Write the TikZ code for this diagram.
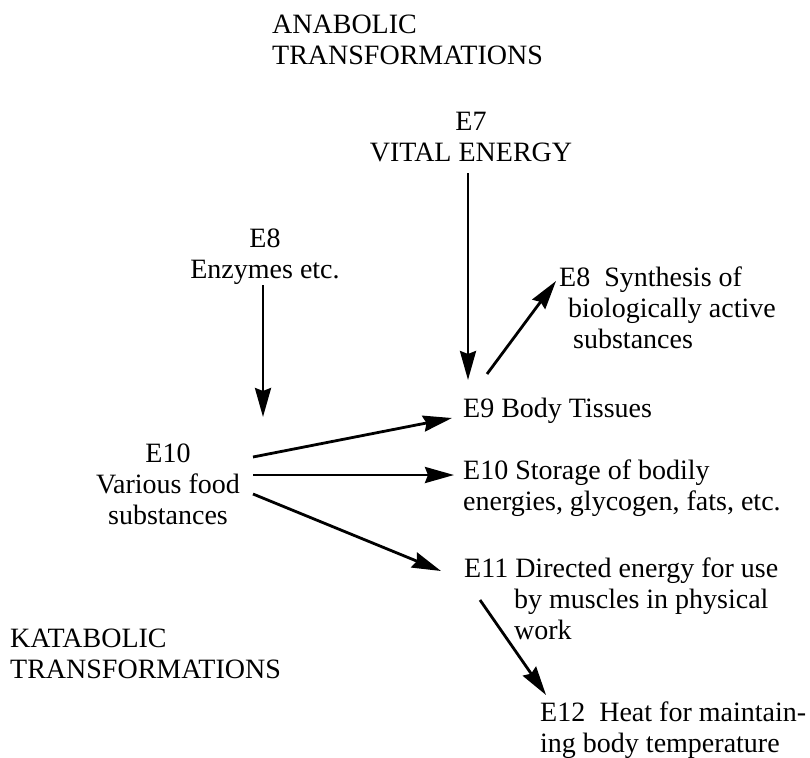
\documentclass[tikz,border=0pt]{standalone}
\usepackage{fontspec}
\setmainfont{Liberation Serif}
\usetikzlibrary{arrows.meta}
\begin{document}
\begin{tikzpicture}[x=1pt,y=-1pt,
  txt/.style={inner sep=0pt,font=\fontsize{28}{31}\selectfont},
  arr/.style={line width=2.8pt,-{Stealth[length=29pt,width=16pt,inset=3pt]}}]
\useasboundingbox (0,0) rectangle (810,757);
\node[txt,anchor=west,align=left] (ana) at (272,40) {ANABOLIC\\TRANSFORMATIONS};
\node[txt,anchor=west,align=left] (kata) at (10,654) {KATABOLIC\\TRANSFORMATIONS};
\node[txt,align=center] (e7) at (471,137) {E7\\VITAL ENERGY};
\node[txt,align=center] (e8) at (265,257) {E8\\Enzymes etc.};
\node[txt,align=center] (e10) at (168,484) {E10\\Various food\\substances};
\node[txt,anchor=west,align=left] (e8s) at (559,308) {E8\enspace Synthesis of\\\hspace*{9pt}biologically active\\\hspace*{14pt}substances};
\node[txt,anchor=west] (e9) at (463,411) {E9 Body Tissues};
\node[txt,anchor=west,align=left] (e10s) at (463,488) {E10 Storage of bodily\\energies, glycogen, fats, etc.};
\node[txt,anchor=west,align=left] (e11) at (464,599) {E11 Directed energy for use\\\hspace*{50pt}by muscles in physical\\\hspace*{50pt}work};
\node[txt,anchor=west,align=left] (e12) at (540,730) {E12\enspace Heat for maintain-\\ing body temperature};
% connector ends
\coordinate (e7out) at (468,173);
\coordinate (e9top) at (468,380);
\coordinate (e9out) at (487,374);
\coordinate (e8sin) at (556,281);
\coordinate (e8out) at (263,285);
\coordinate (e10top) at (263,417);
\coordinate (e10a) at (253,457);
\coordinate (e10b) at (253,475);
\coordinate (e10c) at (253,494);
\coordinate (e9in) at (452,418);
\coordinate (e10sin) at (454,475);
\coordinate (e11in) at (441,571);
\coordinate (e11out) at (480,600);
\coordinate (e12in) at (546,695);
\draw[arr] (e7out) -- (e9top);
\draw[arr] (e9out) -- (e8sin);
\draw[arr] (e8out) -- (e10top);
\draw[arr] (e10a) -- (e9in);
\draw[arr] (e10b) -- (e10sin);
\draw[arr] (e10c) -- (e11in);
\draw[arr] (e11out) -- (e12in);
\end{tikzpicture}
\end{document}
